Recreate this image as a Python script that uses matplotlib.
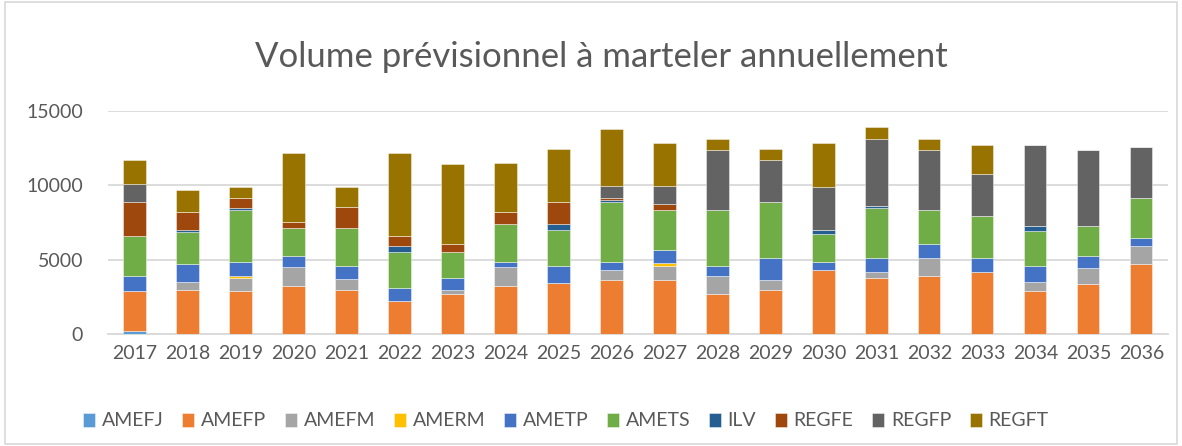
import matplotlib.pyplot as plt
from matplotlib.patches import Rectangle

plt.rcParams["font.family"] = ["Lato", "DejaVu Sans"]

years = [str(y) for y in range(2017, 2037)]

AMEFJ = [200, 0, 50, 0, 0, 0, 0, 0, 50, 0, 0, 0, 0, 0, 50, 0, 0, 0, 0, 0]
AMEFP = [2670, 3000, 2820, 3270, 3000, 2220, 2730, 3270, 3370, 3670,
         3670, 2730, 3000, 4330, 3750, 3930, 4200, 2870, 3400, 4730]
AMEFM = [0, 510, 930, 1220, 690, 0, 270, 1220, 0, 670,
         930, 1200, 670, 0, 400, 1200, 0, 670, 1070, 1200]
AMERM = [0, 0, 130, 0, 0, 0, 0, 0, 0, 0, 160, 0, 0, 0, 0, 0, 0, 0, 0, 0]
AMETP = [1070, 1220, 910, 780, 910, 910, 800, 380, 1180, 510,
         910, 670, 1470, 510, 930, 930, 930, 1070, 800, 530]
AMETS = [2670, 2160, 3490, 1870, 2530, 2400, 1730, 2560, 2420, 4020,
         2670, 3730, 3730, 1890, 3330, 2270, 2800, 2290, 1980, 2670]
ILV = [0, 110, 110, 0, 0, 400, 0, 0, 380, 110, 0, 0, 0, 270, 130, 0, 0, 380, 0, 0]
REGFE = [2270, 1180, 670, 400, 1440, 670, 510, 760, 1470, 160,
         400, 0, 0, 0, 0, 0, 0, 0, 0, 0]
REGFP = [1180, 0, 0, 0, 0, 0, 0, 0, 0, 780,
         1180, 4000, 2800, 2910, 4510, 4000, 2800, 5440, 5090, 3440]
REGFT = [1600, 1490, 800, 4640, 1330, 5580, 5360, 3330, 3580, 3870,
         2930, 780, 780, 2930, 800, 780, 1980, 0, 0, 0]

series = [
    ("AMEFJ", AMEFJ, "#5B9BD5"),
    ("AMEFP", AMEFP, "#ED7D31"),
    ("AMEFM", AMEFM, "#A5A5A5"),
    ("AMERM", AMERM, "#FFC000"),
    ("AMETP", AMETP, "#4472C4"),
    ("AMETS", AMETS, "#70AD47"),
    ("ILV", ILV, "#255E91"),
    ("REGFE", REGFE, "#9E480E"),
    ("REGFP", REGFP, "#636363"),
    ("REGFT", REGFT, "#997300"),
]

text_col = "#595959"
grid_col = "#D9D9D9"

fig = plt.figure(figsize=(11.82, 4.46), dpi=100)
fig.patches.append(Rectangle((0.004, 0.004), 0.992, 0.992, transform=fig.transFigure,
                             fill=False, edgecolor=grid_col, linewidth=1.2))
ax = fig.add_axes([0.0914, 0.2505, 0.8966, 0.5013])

bottom = [0] * len(years)
handles = []
for name, vals, col in series:
    b = ax.bar(years, vals, width=0.42, bottom=bottom, color=col,
               edgecolor=(1, 1, 1, 0.5), linewidth=0.6, label=name, zorder=3)
    handles.append(b)
    bottom = [a + v for a, v in zip(bottom, vals)]

ax.set_ylim(0, 15000)
ax.set_xlim(-0.5, len(years) - 0.5)
ax.set_yticks([0, 5000, 10000, 15000])
ax.yaxis.grid(True, color=grid_col, linewidth=1.3, zorder=0)
ax.tick_params(length=0, labelsize=14, colors=text_col)
ax.tick_params(axis="x", pad=8)
ax.tick_params(axis="y", pad=18)
for s in ["top", "right", "left"]:
    ax.spines[s].set_visible(False)
ax.spines["bottom"].set_color(grid_col)
ax.spines["bottom"].set_linewidth(1.3)

fig.text(601 / 1182, 1 - 57 / 446, "Volume prévisionnel à marteler annuellement",
         ha="center", va="center", fontsize=25, color=text_col)

fig.legend(handles=handles, loc="center", bbox_to_anchor=(566 / 1182, 1 - 421 / 446),
           ncol=10, frameon=False, fontsize=14, labelcolor=text_col,
           handlelength=0.62, handleheight=0.72, handletextpad=0.35, columnspacing=0.95)

fig.savefig("out.png", dpi=100)
